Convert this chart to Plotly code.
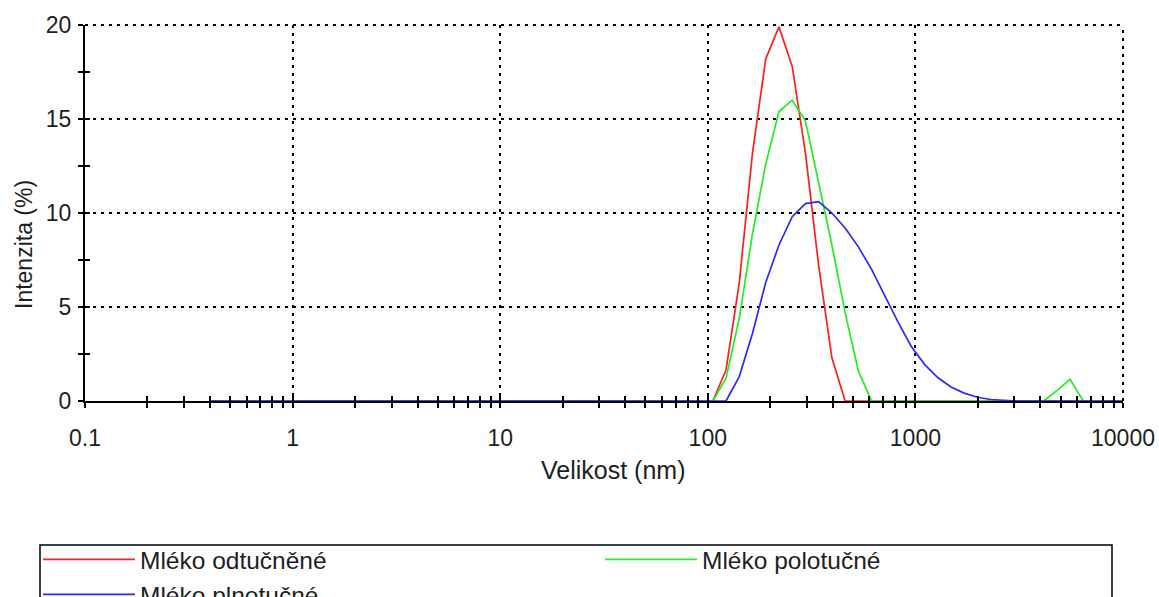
import plotly.graph_objects as go

# Size classes (nm) of the DLS distribution
sizes_nm = [0.4, 0.4632, 0.5365, 0.6213, 0.7195, 0.8332, 0.9649, 1.117, 1.294, 1.499,
            1.736, 2.010, 2.328, 2.696, 3.122, 3.615, 4.187, 4.849, 5.615, 6.503,
            7.531, 8.721, 10.10, 11.70, 13.54, 15.69, 18.17, 21.04, 24.36, 28.21,
            32.67, 37.84, 43.82, 50.75, 58.77, 68.06, 78.82, 91.28, 105.7, 122.4,
            141.8, 164.2, 190.1, 220.2, 255.0, 295.3, 342.0, 396.1, 458.7, 531.2,
            615.1, 712.4, 825.0, 955.4, 1106, 1281, 1484, 1718, 1990, 2305,
            2669, 3091, 3580, 4145, 4801, 5560, 6439, 7456, 8635, 10000]

# Intensity (%) per size class
odtucnene = [0, 0, 0, 0, 0, 0, 0, 0, 0, 0,
             0, 0, 0, 0, 0, 0, 0, 0, 0, 0,
             0, 0, 0, 0, 0, 0, 0, 0, 0, 0,
             0, 0, 0, 0, 0, 0, 0, 0, 0, 1.65,
             6.3, 13.2, 18.2, 19.9, 17.8, 13.2, 7.2, 2.3, 0, 0,
             0, 0, 0, 0, 0, 0, 0, 0, 0, 0,
             0, 0, 0, 0, 0, 0, 0, 0, 0, 0]

polotucne = [0, 0, 0, 0, 0, 0, 0, 0, 0, 0,
             0, 0, 0, 0, 0, 0, 0, 0, 0, 0,
             0, 0, 0, 0, 0, 0, 0, 0, 0, 0,
             0, 0, 0, 0, 0, 0, 0, 0, 0, 1.2,
             4.4, 8.9, 12.6, 15.4, 16.0, 14.9, 11.6, 8.3, 4.7, 1.6,
             0, 0, 0, 0, 0, 0, 0, 0, 0, 0,
             0, 0, 0, 0, 0.55, 1.15, 0, 0, 0, 0]

plnotucne = [0, 0, 0, 0, 0, 0, 0, 0, 0, 0,
             0, 0, 0, 0, 0, 0, 0, 0, 0, 0,
             0, 0, 0, 0, 0, 0, 0, 0, 0, 0,
             0, 0, 0, 0, 0, 0, 0, 0, 0, 0,
             1.3, 3.6, 6.3, 8.3, 9.8, 10.5, 10.6, 10.0, 9.2, 8.2,
             7.0, 5.6, 4.2, 2.9, 1.95, 1.25, 0.75, 0.42, 0.2, 0.08,
             0.02, 0, 0, 0, 0, 0, 0, 0, 0, 0]

series_names = ["Mléko odtučněné", "Mléko polotučné", "Mléko plnotučné"]
series_colors = ["#ff1f1f", "#22ee22", "#2b2bff"]

x_tick_vals = [0.1, 1, 10, 100, 1000, 10000]
x_tick_text = ["0.1", "1", "10", "100", "1000", "10000"]
y_tick_vals = [0, 5, 10, 15, 20]
y_tick_text = ["0", "5", "10", "15", "20"]
y_minor_vals = [2.5, 7.5, 12.5, 17.5]
x_minor_vals = [m * d for d in [0.1, 1, 10, 100, 1000] for m in range(2, 10)]

x_title = "Velikost (nm)"
y_title = "Intenzita (%)"

FONT = "Liberation Sans, Arial, sans-serif"
TXT = "#1e1e1e"

# plot-area geometry (pixels)
L, R, T, B = 85, 36, 25, 196
W, H = 1159, 597
PW, PH = W - L - R, H - T - B


def px_x(p):
    return (p - L) / PW


def px_y(p):
    return (H - B - p) / PH


fig = go.Figure()
for name, vals, col in zip(series_names, [odtucnene, polotucne, plnotucne], series_colors):
    fig.add_trace(go.Scatter(x=sizes_nm, y=vals, mode="lines", name=name,
                             line=dict(color=col, width=1.7), cliponaxis=False))

# helper trace for the overlay axes (inward half of crossing ticks)
fig.add_trace(go.Scatter(x=[], y=[], xaxis="x2", yaxis="y2", showlegend=False, hoverinfo="skip"))

common_grid = dict(showgrid=True, gridcolor="black", gridwidth=2, griddash="3px,5px")
dotted = dict(color="black", width=2, dash="3px,5px")

fig.update_layout(
    width=W, height=H,
    margin=dict(l=L, r=R, t=T, b=B, autoexpand=False),
    paper_bgcolor="white", plot_bgcolor="white",
    font=dict(family=FONT, size=23, color=TXT),
    xaxis=dict(type="log", range=[-1, 4], tickmode="array",
               tickvals=x_tick_vals, ticktext=x_tick_text,
               ticks="outside", ticklen=5, tickwidth=1.5, tickcolor="black",
               minor=dict(tickvals=x_minor_vals, ticks="outside", ticklen=5,
                          tickwidth=1.5, tickcolor="black", showgrid=False),
               showline=True, linecolor="black", linewidth=2, automargin=False,
               zeroline=False, ticklabelstandoff=10, **common_grid),
    yaxis=dict(range=[0, 20], tickmode="array", tickvals=y_tick_vals, ticktext=y_tick_text,
               ticks="outside", ticklen=5, tickwidth=1.5, tickcolor="black",
               minor=dict(tickvals=y_minor_vals, ticks="outside", ticklen=5,
                          tickwidth=1.5, tickcolor="black", showgrid=False),
               showline=True, linecolor="black", linewidth=2, automargin=False,
               zeroline=False, ticklabelstandoff=2, **common_grid),
    xaxis2=dict(type="log", range=[-1, 4], overlaying="x", anchor="y", side="bottom",
                tickmode="array", tickvals=x_tick_vals, ticks="inside", ticklen=5,
                tickwidth=1.5, tickcolor="black", showticklabels=False, showgrid=False,
                zeroline=False, showline=False, automargin=False,
                minor=dict(tickvals=x_minor_vals, ticks="inside", ticklen=5,
                           tickwidth=1.5, tickcolor="black", showgrid=False)),
    yaxis2=dict(range=[0, 20], overlaying="y", anchor="x", side="left",
                tickmode="array", tickvals=y_tick_vals, ticks="inside", ticklen=5,
                tickwidth=1.5, tickcolor="black", showticklabels=False, showgrid=False,
                zeroline=False, showline=False, automargin=False,
                minor=dict(tickvals=y_minor_vals, ticks="inside", ticklen=5,
                           tickwidth=1.5, tickcolor="black", showgrid=False)),
    showlegend=True,
    legend=dict(orientation="h", xref="paper", yref="paper",
                x=px_x(38), xanchor="left", y=px_y(537), yanchor="top",
                borderwidth=0, bgcolor="rgba(0,0,0,0)",
                itemwidth=92, entrywidth=455, entrywidthmode="pixels",
                font=dict(family=FONT, size=24.5, color=TXT), traceorder="normal"),
    shapes=[
        # legend frame
        dict(type="rect", xref="paper", yref="paper", x0=px_x(40), x1=px_x(1112),
             y0=px_y(545), y1=px_y(640), line=dict(color="black", width=1.5),
             fillcolor="rgba(0,0,0,0)", layer="below"),
        # dotted frame edges at top (20 %) and right (10000 nm)
        dict(type="line", xref="paper", yref="paper", x0=0, x1=1, y0=1, y1=1, line=dotted),
        dict(type="line", xref="paper", yref="paper", x0=1, x1=1, y0=0, y1=1, line=dotted),
    ],
    annotations=[
        dict(text=x_title, xref="paper", yref="paper", x=px_x(613),
             y=px_y(470), xanchor="center", yanchor="middle",
             showarrow=False, font=dict(family=FONT, size=25, color=TXT)),
        dict(text=y_title, xref="paper", yref="paper", x=px_x(24),
             y=px_y(245), xanchor="center", yanchor="middle", textangle=-90,
             showarrow=False, font=dict(family=FONT, size=23, color=TXT)),
    ],
)

fig.write_html("out.html", config={"displayModeBar": False})
